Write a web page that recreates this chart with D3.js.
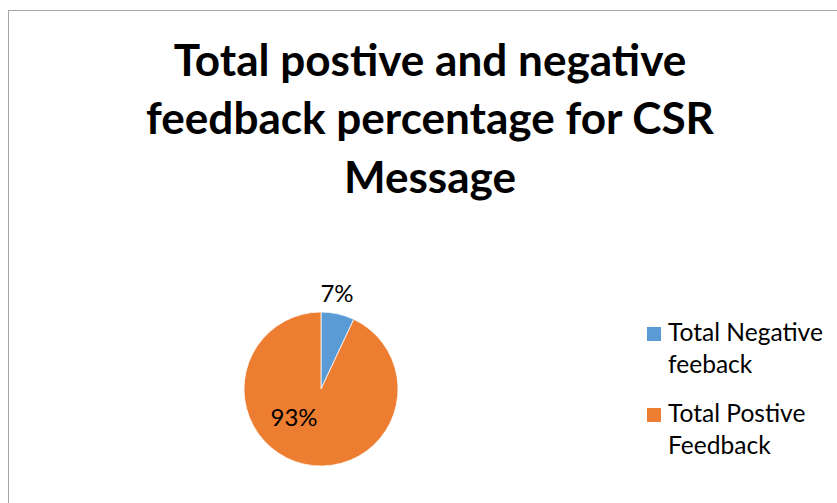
<!DOCTYPE html>
<html>
<head>
<meta charset="utf-8">
<script src="https://cdn.jsdelivr.net/npm/d3@7"></script>
<style>
  html, body { margin: 0; padding: 0; background: #fff; }
  svg { display: block; }
</style>
</head>
<body>
<svg id="chart" width="837" height="503"></svg>
<script>
const categories = ["Total Negative feeback", "Total Postive Feedback"];
const legendLines = [["Total Negative", "feeback"], ["Total Postive", "Feedback"]];
const values = [7, 93];
const valueLabels = ["7%", "93%"];
const colors = ["#5b9bd5", "#ed7d31"];
const titleLines = ["Total postive and negative", "feedback percentage for CSR", "Message"];

const svg = d3.select("#chart");
const W = 837, H = 503;

svg.append("rect").attr("x", 0).attr("y", 0).attr("width", W).attr("height", H).attr("fill", "#fff");
// chart border (extends beyond right/bottom edges)
svg.append("rect")
  .attr("x", 8.5).attr("y", 10.5).attr("width", 900).attr("height", 600)
  .attr("fill", "none").attr("stroke", "#a6a6a6").attr("stroke-width", 1);

// Title
const titleFont = "Lato, 'Open Sans', sans-serif";
const title = svg.append("g");
const titleBaselines = [76, 134, 193];
const tl = title.selectAll("text").data(titleLines).join("text")
  .attr("x", 430)
  .attr("y", (d, i) => titleBaselines[i])
  .attr("text-anchor", "middle")
  .attr("font-family", titleFont)
  .attr("font-weight", "bold")
  .attr("font-size", 100)
  .attr("fill", "#000")
  .text(d => d);
const w2 = tl.nodes()[1].getComputedTextLength();
tl.attr("font-size", 100 * 568 / w2);

// Pie
const cx = 321, cy = 389, r = 77;
const pie = d3.pie().sort(null).value(d => d)(values);
const arc = d3.arc().innerRadius(0).outerRadius(r);
const g = svg.append("g").attr("transform", `translate(${cx},${cy})`);
g.selectAll("path").data(pie).join("path")
  .attr("d", arc)
  .attr("fill", (d, i) => colors[i])
  .attr("stroke", "#fff")
  .attr("stroke-width", 0.75);

// Data labels (Excel-style placement: outside end for small slice, inside for big one)
const labelFont = "Lato, 'Open Sans', sans-serif";
const labPos = [[16, -87], [-27, 37]];
g.selectAll("text.lab").data(pie).join("text")
  .attr("class", "lab")
  .attr("x", (d, i) => labPos[i][0])
  .attr("y", (d, i) => labPos[i][1])
  .attr("text-anchor", "middle")
  .attr("font-family", labelFont)
  .attr("font-size", 24)
  .attr("fill", "#000")
  .text((d, i) => valueLabels[i]);

// Legend
const legend = svg.append("g");
const itemY = [341, 422];
legendLines.forEach((lines, i) => {
  legend.append("rect")
    .attr("x", 647).attr("y", itemY[i] - 14)
    .attr("width", 14).attr("height", 14)
    .attr("fill", colors[i]);
  lines.forEach((ln, j) => {
    legend.append("text")
      .attr("class", "legtext")
      .attr("x", 668).attr("y", itemY[i] + j * 32)
      .attr("font-family", labelFont)
      .attr("font-size", 21)
      .attr("fill", "#000")
      .text(ln);
  });
});
const lt = legend.selectAll("text.legtext");
const wl = lt.nodes()[0].getComputedTextLength();
lt.attr("font-size", 21 * 155 / wl);
</script>
</body>
</html>
